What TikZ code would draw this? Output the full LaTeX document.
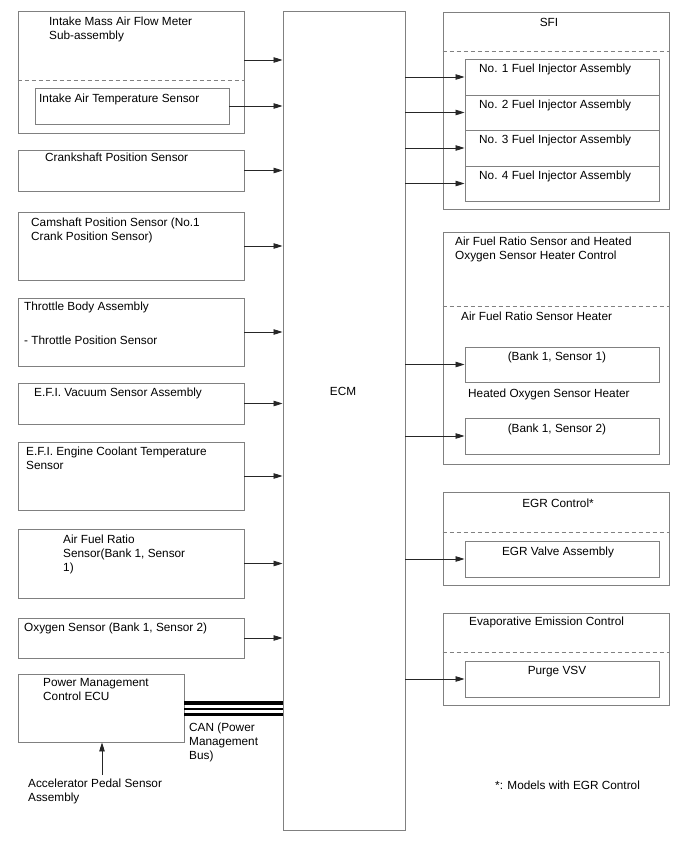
\documentclass[tikz,border=0pt]{standalone}
\usepackage{fontspec}
\setmainfont{Liberation Sans}
\usetikzlibrary{arrows.meta}
\begin{document}
\begin{tikzpicture}[x=1pt,y=-1pt,
  box/.style={draw=black!50,line width=0.9pt,inner sep=0pt,minimum width=#1},
  box/.default=226,
  txt/.style={anchor=north west,inner sep=0pt,align=left,font=\fontsize{11.8}{14}\selectfont,execute at begin node=\strut},
  ctxt/.style={anchor=north,inner sep=0pt,align=center,font=\fontsize{11.8}{14}\selectfont,execute at begin node=\strut},
  arr/.style={draw=black!85,line width=0.8pt,-{Triangle[length=9pt,width=5.5pt]}},
  dsh/.style={draw=black!50,line width=0.8pt,dash pattern=on 4pt off 3pt},
  can/.style={draw=black,line cap=butt}]
\useasboundingbox (0,0) rectangle (688,852);
% ECM
\node[box=122,minimum height=819] (ecm) at (344,420.5) {};
\node[ctxt] (ecmt) at (343,385) {ECM};
% left boxes
\node[box,minimum height=122] (maf) at (131,72) {};
\node[box=194,minimum height=36] (iat) at (132,106) {};
\node[box,minimum height=41] (crank) at (131,170.5) {};
\node[box,minimum height=68] (cam) at (131,246) {};
\node[box,minimum height=68] (thr) at (131,332) {};
\node[box,minimum height=41] (vac) at (131,403.5) {};
\node[box,minimum height=68] (ect) at (131,476) {};
\node[box,minimum height=69] (afs) at (131,563.5) {};
\node[box,minimum height=40] (oxs) at (131,638) {};
\node[box=166,minimum height=68] (pmc) at (101,708) {};
\draw[dsh] (maf.west |- 0,80) -- (maf.east |- 0,80);
% left texts
\node[txt] (maft) at (49,17) {Intake Mass Air Flow Meter\\Sub-assembly};
\node[txt] (iatt) at (39,92.5) {Intake Air Temperature Sensor};
\node[txt] (crankt) at (45,151.5) {Crankshaft Position Sensor};
\node[txt] (camt) at (31,217.5) {Camshaft Position Sensor (No.1\\Crank Position Sensor)};
\node[txt] (thrt) at (24,300.5) {Throttle Body Assembly};
\node[txt] (thrs) at (24,334.5) {- Throttle Position Sensor};
\node[txt] (vact) at (34,386.5) {E.F.I. Vacuum Sensor Assembly};
\node[txt] (ectt) at (26,446.5) {E.F.I. Engine Coolant Temperature\\Sensor};
\node[txt] (afst) at (63,534.5) {Air Fuel Ratio\\Sensor(Bank 1, Sensor\\1)};
\node[txt] (oxst) at (24,621.5) {Oxygen Sensor (Bank 1, Sensor 2)};
\node[txt] (pmct) at (43,678.5) {Power Management\\Control ECU};
\node[txt] (cant) at (189,722.5) {CAN (Power\\Management\\Bus)};
\node[txt] (apst) at (28,778.5) {Accelerator Pedal Sensor\\Assembly};
% left arrows
\draw[arr] (maf.east |- 0,60) -- (ecm.west |- 0,60);
\draw[arr] (iat.east) -- (iat.east -| ecm.west);
\foreach \n in {crank,cam,thr,vac,ect,afs,oxs}
  \draw[arr] (\n.east) -- (\n.east -| ecm.west);
\coordinate (aps) at (102,775);
\draw[arr] (aps) -- (aps |- pmc.south);
% CAN bus
\draw[can,line width=3.2pt] (pmc.east |- 0,703) -- (ecm.west |- 0,703);
\draw[can,line width=1.2pt] (pmc.east |- 0,709) -- (ecm.west |- 0,709);
\draw[can,line width=3.2pt] (pmc.east |- 0,714.5) -- (ecm.west |- 0,714.5);
% right: SFI
\node[box,minimum height=197] (sfi) at (556,110.5) {};
\draw[dsh] (sfi.west |- 0,51) -- (sfi.east |- 0,51);
\node[ctxt] (sfit) at (549,16.5) {SFI};
\node[box=194,minimum height=36] (inja) at (562,77) {};
\node[box=194,minimum height=35] (injb) at (562,112.5) {};
\node[box=194,minimum height=36] (injc) at (562,148) {};
\node[box=194,minimum height=35] (injd) at (562,183.5) {};
\node[txt] (injat) at (479,62.5) {No. 1 Fuel Injector Assembly};
\node[txt] (injbt) at (479,98.5) {No. 2 Fuel Injector Assembly};
\node[txt] (injct) at (479,133.5) {No. 3 Fuel Injector Assembly};
\node[txt] (injdt) at (479,169.5) {No. 4 Fuel Injector Assembly};
\foreach \n in {inja,injb,injc,injd}
  \draw[arr] (\n.west -| ecm.east) -- (\n.west);
% right: AFR heater control
\node[box,minimum height=232] (afr) at (556,348) {};
\draw[dsh] (afr.west |- 0,306) -- (afr.east |- 0,306);
\node[txt] (afrt) at (455,236.5) {Air Fuel Ratio Sensor and Heated\\Oxygen Sensor Heater Control};
\node[txt] (afht) at (461,310.5) {Air Fuel Ratio Sensor Heater};
\node[box=194,minimum height=35] (bka) at (562,364.5) {};
\node[ctxt] (bkat) at (557,350.5) {(Bank 1, Sensor 1)};
\node[txt] (hoht) at (468,387.5) {Heated Oxygen Sensor Heater};
\node[box=194,minimum height=36] (bkb) at (562,436) {};
\node[ctxt] (bkbt) at (557,422.5) {(Bank 1, Sensor 2)};
\draw[arr] (bka.west -| ecm.east) -- (bka.west);
\draw[arr] (bkb.west -| ecm.east) -- (bkb.west);
% right: EGR
\node[box,minimum height=93] (egr) at (556,538.5) {};
\draw[dsh] (egr.west |- 0,532) -- (egr.east |- 0,532);
\node[ctxt] (egrt) at (558,497.5) {EGR Control*};
\node[box=194,minimum height=36] (egrv) at (562,559) {};
\node[ctxt] (egrvt) at (558,545.5) {EGR Valve Assembly};
\draw[arr] (egrv.west -| ecm.east) -- (egrv.west);
% right: Evap
\node[box,minimum height=92] (evap) at (556,659) {};
\draw[dsh] (evap.west |- 0,652) -- (evap.east |- 0,652);
\node[txt] (evapt) at (469,615.5) {Evaporative Emission Control};
\node[box=194,minimum height=36] (purge) at (562,679) {};
\node[ctxt] (purget) at (557,664.5) {Purge VSV};
\draw[arr] (purge.west -| ecm.east) -- (purge.west);
% footnote
\node[txt] (note) at (495,779.5) {*: Models with EGR Control};
\end{tikzpicture}
\end{document}
